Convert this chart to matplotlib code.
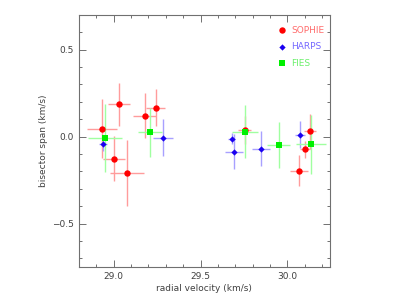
import matplotlib
matplotlib.use('Agg')
import matplotlib.pyplot as plt
from matplotlib.ticker import MultipleLocator

# SOPHIE
sophie_rv = [28.933, 29.029, 29.004, 29.077, 29.178, 29.241, 29.755, 30.130, 30.100, 30.067]
sophie_bis = [0.046, 0.185, -0.127, -0.208, 0.120, 0.166, 0.036, 0.030, -0.073, -0.195]
sophie_rv_err = [0.086, 0.063, 0.063, 0.096, 0.065, 0.056, 0.037, 0.036, 0.030, 0.053]
sophie_bis_err = [0.17, 0.124, 0.13, 0.19, 0.13, 0.105, 0.08, 0.10, 0.05, 0.09]

# HARPS
harps_rv = [28.939, 29.284, 29.680, 29.692, 29.850, 30.073]
harps_bis = [-0.042, -0.006, -0.011, -0.086, -0.070, 0.011]
harps_rv_err = [0.024, 0.055, 0.020, 0.050, 0.052, 0.030]
harps_bis_err = [0.04, 0.107, 0.034, 0.10, 0.10, 0.076]

# FIES
fies_rv = [28.951, 29.209, 29.755, 29.950, 30.136]
fies_bis = [-0.010, 0.025, 0.029, -0.048, -0.044]
fies_rv_err = [0.096, 0.070, 0.075, 0.067, 0.084]
fies_bis_err = [0.196, 0.14, 0.15, 0.13, 0.17]

fig = plt.figure(figsize=(4.13, 2.98), dpi=100)
ax = fig.add_axes([0.191, 0.104, 0.608, 0.846])

# data, marker, size, marker colour, errorbar colour, legend text colour, label
series = [
    (sophie_rv, sophie_bis, sophie_rv_err, sophie_bis_err, 'o', 4.6, '#ff0000', '#ff9c9c', '#ff6c6c', 'SOPHIE'),
    (harps_rv, harps_bis, harps_rv_err, harps_bis_err, 'D', 3.2, '#1a00f0', '#a8a0ff', '#7468ff', 'HARPS'),
    (fies_rv, fies_bis, fies_rv_err, fies_bis_err, 's', 4.0, '#00f000', '#a0ffa0', '#6cf06c', 'FIES'),
]

for x, y, xe, ye, m, ms, c, ec, tc, lab in series:
    ax.errorbar(x, y, xerr=xe, yerr=ye, fmt='none', ecolor=ec, elinewidth=1.0, capsize=0, zorder=2)
for x, y, xe, ye, m, ms, c, ec, tc, lab in series:
    ax.plot(x, y, m, color=c, markersize=ms, markeredgewidth=0, zorder=3)

ax.set_xlim(28.8, 30.245)
ax.set_ylim(-0.75, 0.7)
ax.xaxis.set_major_locator(MultipleLocator(0.5))
ax.xaxis.set_minor_locator(MultipleLocator(0.1))
ax.yaxis.set_major_locator(MultipleLocator(0.5))
ax.yaxis.set_minor_locator(MultipleLocator(0.1))
ax.xaxis.set_major_formatter(plt.FuncFormatter(lambda v, p: f'{v:.1f}'))
ax.yaxis.set_major_formatter(plt.FuncFormatter(lambda v, p: f'{v:.1f}'.replace('-', '\u2212')))

gray = '#707070'
for s in ax.spines.values():
    s.set_color(gray)
    s.set_linewidth(0.8)
ax.tick_params(which='both', direction='in', top=True, right=True, color=gray,
               labelsize=6.5, labelcolor='#404040', width=0.7)
ax.tick_params(which='major', length=5)
ax.tick_params(which='minor', length=2.5)

ax.set_xlabel('radial velocity (km/s)', fontsize=6.5, color='#404040', labelpad=2)
ax.set_ylabel('bisector span (km/s)', fontsize=6.5, color='#404040', labelpad=3)

# legend drawn by hand in axes coordinates
for i, (x, y, xe, ye, m, ms, c, ec, tc, lab) in enumerate(series):
    yy = 0.94 - i * 0.066
    ax.plot([0.809], [yy], m, color=c, markersize=ms, markeredgewidth=0,
            transform=ax.transAxes, clip_on=False)
    ax.text(0.846, yy, lab, color=tc, fontsize=6.5,
            va='center', ha='left', transform=ax.transAxes)

fig.savefig('out.png', dpi=100)
